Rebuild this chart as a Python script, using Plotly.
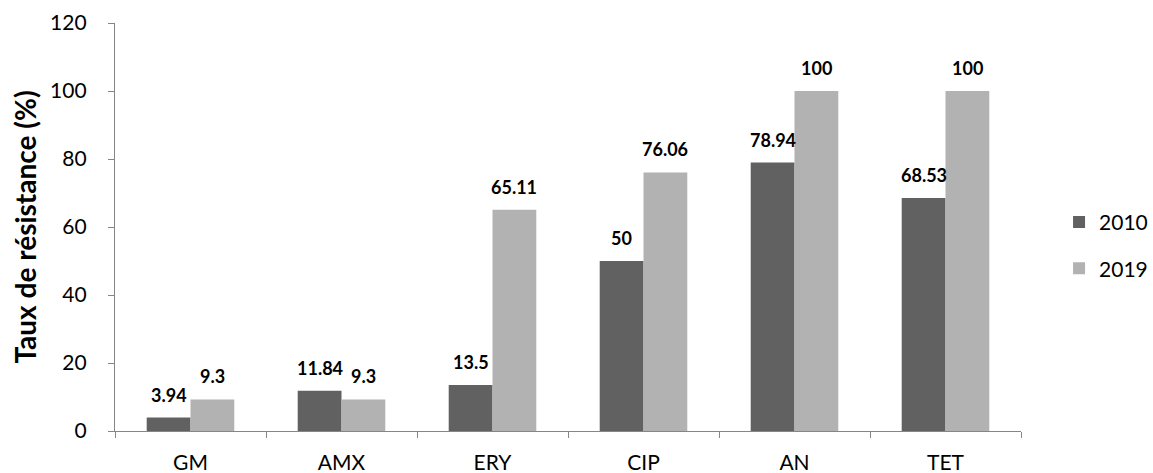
import plotly.graph_objects as go

# Antibiotic resistance rates by year
categories = ["GM", "AMX", "ERY", "CIP", "AN", "TET"]
rates_2010 = [3.94, 11.84, 13.5, 50, 78.94, 68.53]
rates_2019 = [9.3, 9.3, 65.11, 76.06, 100, 100]
y_ticks = [0, 20, 40, 60, 80, 100, 120]

FONT = "Lato, Carlito, Calibri, sans-serif"
AXIS_GREY = "#868686"

fig = go.Figure()
fig.add_trace(go.Bar(name="2010", x=categories, y=rates_2010, legendgroup="y2010",
                     marker=dict(color="#616161", line=dict(width=0))))
fig.add_trace(go.Bar(name="2019", x=categories, y=rates_2019, legendgroup="y2019",
                     marker=dict(color="#b2b2b2", line=dict(width=0))))

# value labels above each bar
n = len(categories)
group_frac = 1 - 0.42
bar_w = group_frac / 2
for series, offset in ((rates_2010, -bar_w / 2), (rates_2019, bar_w / 2)):
    for i, v in enumerate(series):
        fig.add_annotation(x=i + offset, y=v, text=f"<b>{v:g}</b>",
                           showarrow=False, yshift=23, yanchor="middle",
                           font=dict(family=FONT, size=18, color="#000000"))

fig.update_layout(
    width=1153, height=473,
    margin=dict(l=115, r=132, t=23, b=42, autoexpand=False),
    paper_bgcolor="white", plot_bgcolor="white",
    barmode="group", bargap=0.42, bargroupgap=0,
    font=dict(family=FONT, size=21, color="#000000"),
    legend=dict(x=1.042, y=0.455, xanchor="left", yanchor="middle",
                font=dict(family=FONT, size=21), tracegroupgap=16,
                traceorder="grouped",
                itemsizing="constant", bgcolor="rgba(0,0,0,0)"),
    showlegend=True,
)
fig.update_xaxes(
    type="category", range=[-0.5, n - 0.5], automargin=False,
    showline=True, linecolor=AXIS_GREY, linewidth=1.3,
    ticks="outside", tickson="boundaries", ticklen=6, tickcolor=AXIS_GREY,
    ticklabelstandoff=13, showgrid=False, zeroline=False,
    tickfont=dict(family=FONT, size=21),
)
fig.update_yaxes(
    range=[0, 120], tickvals=y_ticks, ticktext=[str(t) for t in y_ticks],
    automargin=False,
    showline=True, linecolor=AXIS_GREY, linewidth=1.3,
    ticks="outside", ticklen=6, tickcolor=AXIS_GREY,
    ticklabelstandoff=17, showgrid=False, zeroline=False,
    tickfont=dict(family=FONT, size=21),
    title=dict(text="<b>Taux de résistance (%)</b>", standoff=5,
               font=dict(family=FONT, size=28)),
)

fig.write_html("out.html")
